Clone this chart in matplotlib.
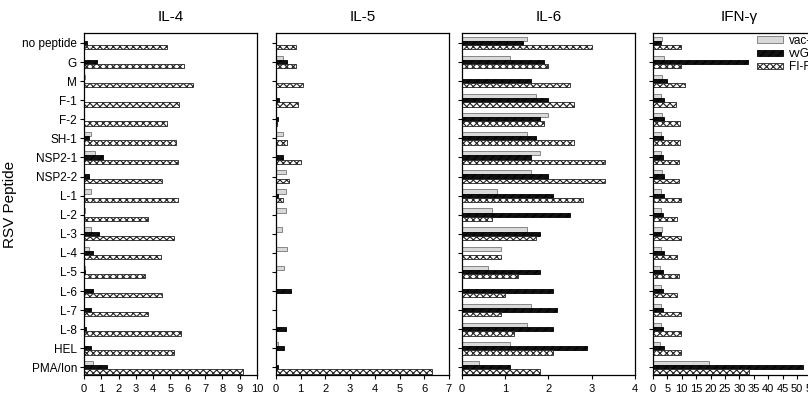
import numpy as np
from matplotlib import pyplot as plt

plt.rcParams['font.family'] = ['Liberation Sans', 'DejaVu Sans']
plt.rcParams['hatch.linewidth'] = 0.8

peptides = ['no peptide', 'G', 'M', 'F-1', 'F-2', 'SH-1', 'NSP2-1', 'NSP2-2', 'L-1',
            'L-2', 'L-3', 'L-4', 'L-5', 'L-6', 'L-7', 'L-8', 'HEL', 'PMA/Ion']
series = ['vac-lac', 'vvG', 'FI-RSV']

# IL-4
il4_vac = [0.0, 0.0, 0.05, 0.0, 0.0, 0.39, 0.62, 0.0, 0.39, 0.05, 0.39, 0.31, 0.05, 0.0, 0.0, 0.0, 0.0, 0.5]
il4_vvg = [0.2, 0.73, 0.0, 0.0, 0.0, 0.27, 1.08, 0.27, 0.0, 0.0, 0.89, 0.5, 0.05, 0.5, 0.39, 0.1, 0.39, 1.3]
il4_fi = [4.78, 5.8, 6.28, 5.5, 4.82, 5.3, 5.41, 4.53, 5.41, 3.72, 5.2, 4.45, 3.53, 4.53, 3.68, 5.6, 5.2, 9.17]
# IL-5
il5_vac = [0.0, 0.3, 0.0, 0.0, 0.0, 0.3, 0.0, 0.4, 0.4, 0.4, 0.23, 0.43, 0.32, 0.0, 0.0, 0.0, 0.1, 0.0]
il5_vvg = [0.0, 0.43, 0.0, 0.13, 0.1, 0.0, 0.3, 0.0, 0.1, 0.0, 0.0, 0.0, 0.0, 0.6, 0.0, 0.4, 0.32, 0.1]
il5_fi = [0.8, 0.8, 1.1, 0.9, 0.05, 0.43, 1.0, 0.54, 0.27, 0.0, 0.0, 0.0, 0.0, 0.0, 0.0, 0.0, 0.0, 6.3]
# IL-6
il6_vac = [1.5, 1.1, 0.0, 1.7, 2.0, 1.5, 1.8, 1.6, 0.8, 0.7, 1.5, 0.9, 0.6, 0.0, 1.6, 1.5, 1.1, 0.4]
il6_vvg = [1.4, 1.9, 1.6, 2.0, 1.8, 1.7, 1.6, 2.0, 2.1, 2.5, 1.8, 0.0, 1.8, 2.1, 2.2, 2.1, 2.9, 1.1]
il6_fi = [3.0, 2.0, 2.5, 2.6, 1.9, 2.6, 3.3, 3.3, 2.8, 0.7, 1.7, 0.9, 1.3, 1.0, 0.9, 1.2, 2.1, 1.8]
# IFN-gamma
ifn_vac = [3.1, 3.9, 3.1, 2.8, 3.1, 2.8, 2.8, 3.1, 2.8, 2.8, 3.1, 2.8, 2.5, 2.8, 2.8, 2.8, 2.5, 19.5]
ifn_vvg = [2.8, 33.0, 4.8, 3.9, 3.9, 3.4, 3.4, 3.9, 3.9, 3.4, 2.8, 3.9, 3.4, 3.6, 3.4, 3.6, 3.9, 52.0]
ifn_fi = [9.7, 9.7, 11.0, 8.0, 9.4, 9.4, 9.2, 9.2, 9.7, 8.3, 9.7, 8.5, 8.9, 8.3, 9.7, 9.7, 9.7, 33.3]

panels = [
    ('IL-4', [il4_vac, il4_vvg, il4_fi], 10, 1, 0.104),
    ('IL-5', [il5_vac, il5_vvg, il5_fi], 7, 1, 0.3416),
    ('IL-6', [il6_vac, il6_vvg, il6_fi], 4, 1, 0.5718),
    ('IFN-γ', [ifn_vac, ifn_vvg, ifn_fi], 60, 5, 0.808),
]

styles = [
    dict(color='#d9d9d9', edgecolor='#777777', hatch=None),
    dict(color='#111111', edgecolor='#000000', hatch='////'),
    dict(color='white', edgecolor='#222222', hatch='xxxxx'),
]

fig = plt.figure(figsize=(8.08, 4.13), dpi=100)
y = np.arange(len(peptides))
h = 0.22

for i, (title, vals, xmax, step, left) in enumerate(panels):
    ax = fig.add_axes([left, 0.092, 0.214, 0.828])
    for k, v in enumerate(vals):
        st = styles[k]
        ax.barh(y + (k - 1) * h, v, h, color=st['color'], edgecolor=st['edgecolor'],
                hatch=st['hatch'], linewidth=0.6, label=series[k])
    ax.set_xlim(0, xmax)
    ax.set_ylim(17.4, -0.52)
    ax.set_xticks(np.arange(0, xmax + 0.1, step))
    ax.set_yticks(y)
    if i == 0:
        ax.set_yticklabels(peptides, fontsize=8.5)
        ax.set_ylabel('RSV Peptide', fontsize=11)
        ax.yaxis.set_label_coords(-0.39, 0.5)
    else:
        ax.set_yticklabels([])
    ax.tick_params(axis='x', labelsize=8, length=3, width=0.8)
    ax.tick_params(axis='y', length=3, width=0.8, pad=2)
    for s in ax.spines.values():
        s.set_linewidth(0.9)
    ax.set_title(title, fontsize=11, pad=9)
    if i == 3:
        ax.legend(loc='upper left', bbox_to_anchor=(0.59, 1.0), frameon=False, fontsize=8.5,
                  handlelength=2.2, handleheight=0.45, handletextpad=0.5,
                  labelspacing=0.1, borderaxespad=0, borderpad=0.15)

fig.savefig('out.png', dpi=100)
